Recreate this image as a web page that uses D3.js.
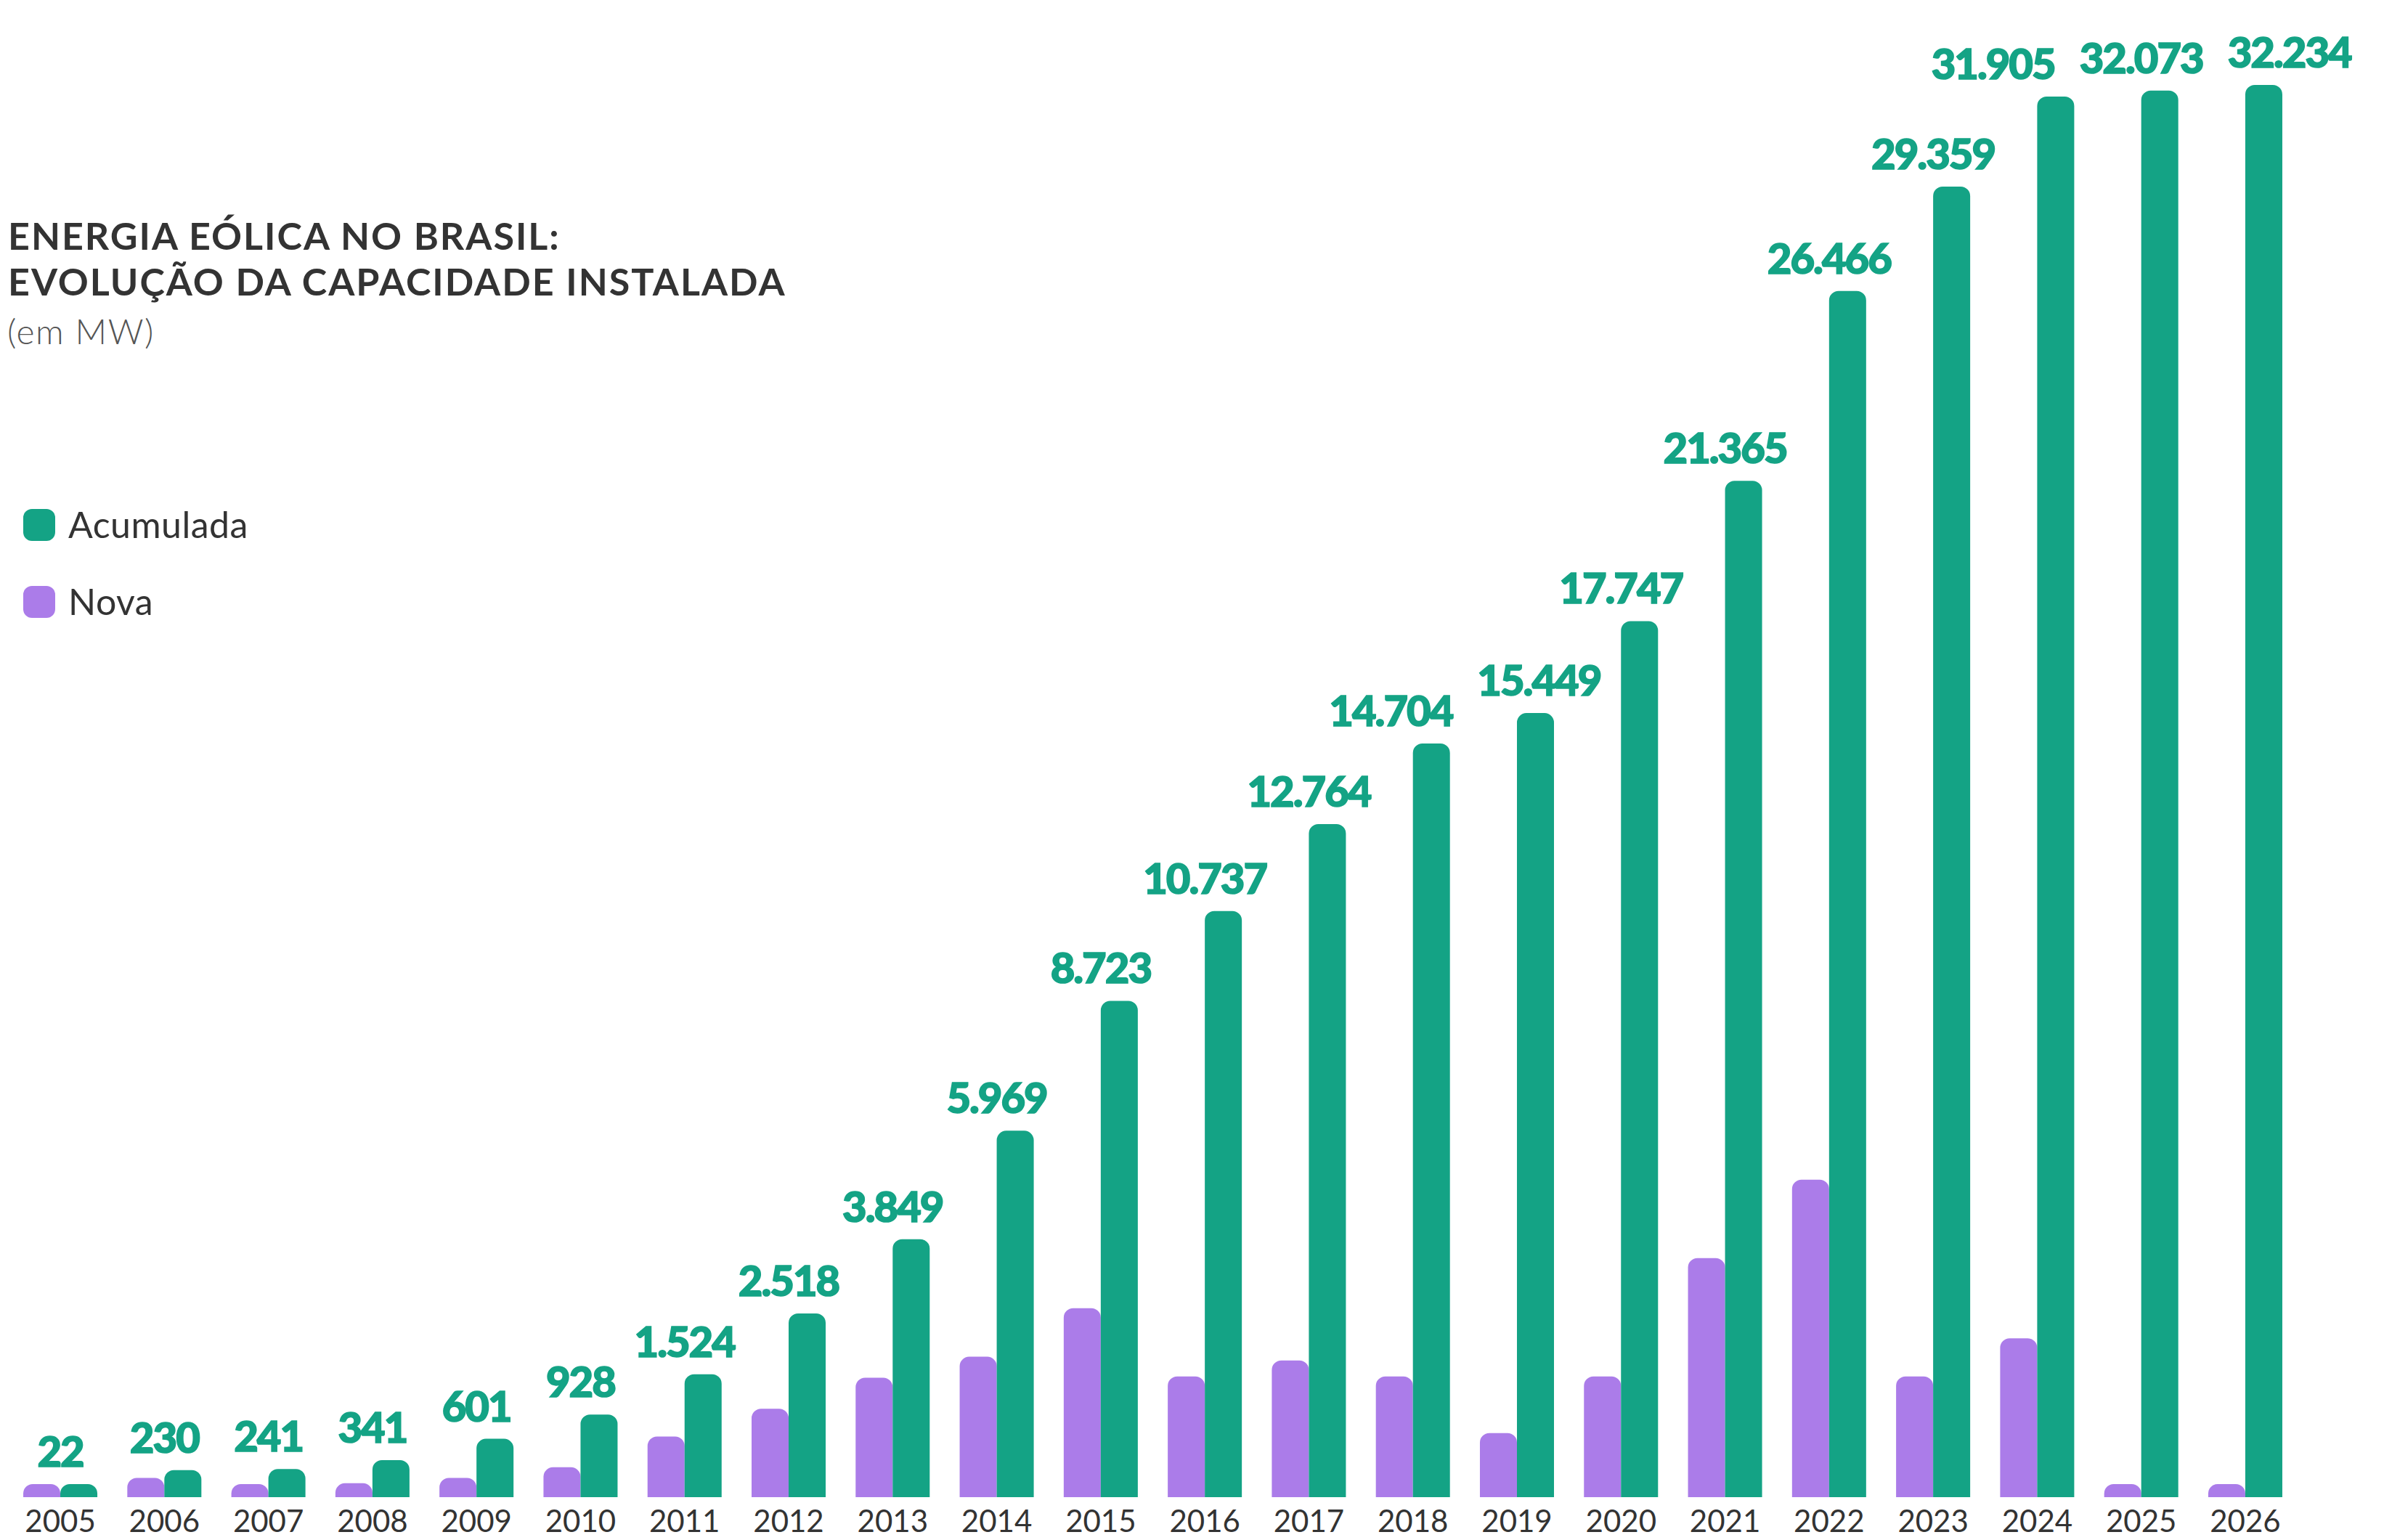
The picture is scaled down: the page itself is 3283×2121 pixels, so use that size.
<!DOCTYPE html>
<html lang="pt-BR">
<head>
<meta charset="utf-8">
<title>Energia eólica no Brasil</title>
<script src="https://cdn.jsdelivr.net/npm/d3@7"></script>
<style>
  html, body { margin: 0; padding: 0; background: #ffffff; }
  svg { display: block; }
</style>
</head>
<body>
<svg id="chart" width="3283" height="2121"></svg>
<script>
// dados (MW)
const years = ["2005", "2006", "2007", "2008", "2009", "2010", "2011", "2012", "2013", "2014", "2015",
    "2016", "2017", "2018", "2019", "2020", "2021", "2022", "2023", "2024", "2025", "2026"];
const acumulada = [22, 230, 241, 341, 601, 928, 1524, 2518, 3849, 5969, 8723,
    10737, 12764, 14704, 15449, 17747, 21365, 26466, 29359, 31905, 32073, 32234];
const nova = [22, 150, 11, 100, 150, 260, 630, 1010, 1470, 1800, 2610,
    1490, 1740, 1490, 675, 1490, 3500, 4990, 1490, 2100, 80, 80];
const seriesKeys = ["nova", "acumulada"];
const legendItems = [
    { key: "acumulada", label: "Acumulada" },
    { key: "nova", label: "Nova" }
];
const titleLines = ["ENERGIA EÓLICA NO BRASIL:", "EVOLUÇÃO DA CAPACIDADE INSTALADA"];
const subtitle = "(em MW)";

document.addEventListener("DOMContentLoaded", function () {
    const svg = d3.select("#chart");
    const width = 3283;
    const height = 2121;

    const colors = { acumulada: "#14a385", nova: "#ab7ce9" };
    const baseY = 2062;       // linha de base das barras
    const plotHeight = 1945;  // altura da maior barra
    const minBar = 18;        // altura mínima visível
    const radius = 13;

    svg.append("rect")
        .attr("width", width)
        .attr("height", height)
        .attr("fill", "#ffffff");

    const rows = years.map((y, i) => ({ year: y, nova: nova[i], acumulada: acumulada[i] }));

    // escalas
    const x0 = d3.scaleBand()
        .domain(years)
        .range([11.4, 3163.6])
        .paddingInner(0.288)
        .paddingOuter(0.144);

    const x1 = d3.scaleBand()
        .domain(seriesKeys)
        .range([0, x0.bandwidth()])
        .padding(0);

    // escala comprimida, como no original
    const yScale = d3.scalePow()
        .exponent(0.8)
        .domain([0, d3.max(acumulada)])
        .range([baseY, baseY - plotHeight]);

    const barTop = v => Math.min(yScale(v), baseY - minBar);

    // barra com cantos superiores arredondados
    const barPath = (x, y, w) => {
        const h = baseY - y;
        const r = Math.min(radius, h, w / 2);
        return `M${x},${baseY}V${y + r}A${r},${r} 0 0 1 ${x + r},${y}` +
            `H${x + w - r}A${r},${r} 0 0 1 ${x + w},${y + r}V${baseY}Z`;
    };

    const groups = svg.append("g")
        .selectAll("g")
        .data(rows)
        .join("g")
        .attr("transform", d => `translate(${x0(d.year)},0)`);

    groups.selectAll("path")
        .data(d => seriesKeys.map(k => ({ key: k, value: d[k] })))
        .join("path")
        .attr("d", d => barPath(x1(d.key), barTop(d.value), x1.bandwidth()))
        .attr("fill", d => colors[d.key]);

    // eixo x (anos)
    const xAxis = svg.append("g")
        .attr("transform", `translate(0, ${baseY})`)
        .call(d3.axisBottom(x0).tickSize(0).tickPadding(0));
    xAxis.select(".domain").remove();
    xAxis.selectAll("text")
        .attr("y", 48)
        .attr("dy", 0)
        .attr("font-family", "Lato, 'Open Sans', sans-serif")
        .attr("font-size", 42)
        .attr("fill", "#333333");

    // rótulos de valor
    const ptBR = d3.formatLocale({ decimal: ",", thousands: ".", grouping: [3], currency: ["R$", ""] });
    const fmt = ptBR.format(",d");

    const labels = svg.append("g")
        .selectAll("text")
        .data(rows)
        .join("text")
        .attr("text-anchor", "middle")
        .attr("font-family", "Lato, 'Open Sans', sans-serif")
        .attr("font-weight", 900)
        .attr("font-size", 58)
        .attr("letter-spacing", -2)
        .attr("fill", colors.acumulada)
        .attr("stroke", colors.acumulada)
        .attr("stroke-width", 1.6)
        .attr("x", d => x0(d.year) + x0.bandwidth() / 2)
        .attr("y", d => barTop(d.acumulada) - 24)
        .text(d => fmt(d.acumulada));

    // afastar rótulos que se sobrepõem na mesma altura
    const boxes = [];
    labels.each(function (d) {
        boxes.push({
            node: this,
            cx: x0(d.year) + x0.bandwidth() / 2,
            y: barTop(d.acumulada) - 24,
            w: this.getComputedTextLength()
        });
    });
    const capH = 44, gap = 34;
    for (let it = 0; it < 80; it++) {
        for (let i = 1; i < boxes.length; i++) {
            const a = boxes[i - 1], b = boxes[i];
            if (Math.abs(a.y - b.y) >= capH) continue;
            const overlap = (a.cx + a.w / 2 + gap) - (b.cx - b.w / 2);
            if (overlap > 0) {
                a.cx -= overlap / 2;
                b.cx += overlap / 2;
            }
        }
        const last = boxes[boxes.length - 1];
        const over = last.cx + last.w / 2 - (width - 12);
        if (over > 0) last.cx -= over;
    }
    boxes.forEach(b => d3.select(b.node).attr("x", b.cx));

    // título
    const title = svg.append("g")
        .attr("font-family", "Lato, 'Open Sans', sans-serif")
        .attr("fill", "#333333");

    title.selectAll("text.title-line")
        .data(titleLines)
        .join("text")
        .attr("class", "title-line")
        .attr("x", 11)
        .attr("y", (d, i) => 344 + i * 63)
        .attr("font-size", 52)
        .attr("font-weight", 700)
        .attr("letter-spacing", 2)
        .text(d => d);

    title.append("text")
        .attr("x", 10)
        .attr("y", 474)
        .attr("font-size", 48)
        .attr("font-weight", 300)
        .attr("letter-spacing", 1.5)
        .attr("fill", "#555555")
        .text(subtitle);

    // legenda
    const legend = svg.append("g")
        .attr("transform", "translate(32, 701)");

    const legendRows = legend.selectAll("g")
        .data(legendItems)
        .join("g")
        .attr("transform", (d, i) => `translate(0, ${i * 106})`);

    legendRows.append("rect")
        .attr("width", 44)
        .attr("height", 44)
        .attr("rx", 12)
        .attr("ry", 12)
        .attr("fill", d => colors[d.key]);

    legendRows.append("text")
        .attr("x", 62)
        .attr("y", 40)
        .attr("font-family", "Lato, 'Open Sans', sans-serif")
        .attr("font-size", 50)
        .attr("letter-spacing", 0.5)
        .attr("fill", "#333333")
        .text(d => d.label);
});
</script>
</body>
</html>
